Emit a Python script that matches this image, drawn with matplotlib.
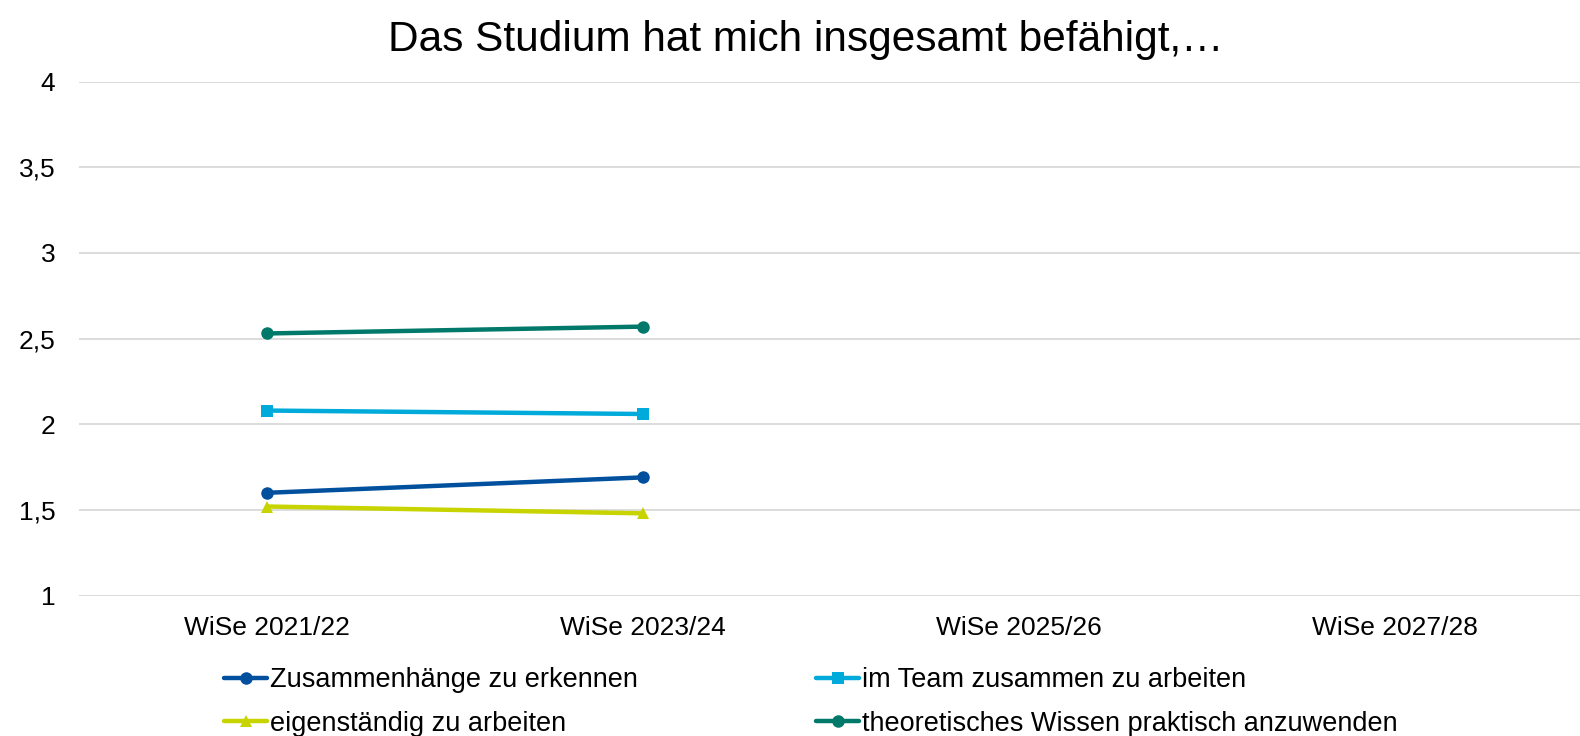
import matplotlib
matplotlib.use("Agg")
import matplotlib.pyplot as plt

categories = ["WiSe 2021/22", "WiSe 2023/24", "WiSe 2025/26", "WiSe 2027/28"]
series_names = ["Zusammenhänge zu erkennen", "im Team zusammen zu arbeiten",
                "eigenständig zu arbeiten", "theoretisches Wissen praktisch anzuwenden"]
zusammenhaenge = [1.60, 1.69]
team = [2.08, 2.06]
eigenstaendig = [1.52, 1.48]
theorie = [2.53, 2.57]
yticks = [1, 1.5, 2, 2.5, 3, 3.5, 4]
ytick_labels = ["1", "1,5", "2", "2,5", "3", "3,5", "4"]
title = "Das Studium hat mich insgesamt befähigt,…"

colors = ["#00509E", "#00AADB", "#C8D400", "#00786A"]
markers = ["o", "s", "^", "o"]

plt.rcParams['font.family'] = ['Liberation Sans', 'DejaVu Sans']

fig = plt.figure(figsize=(15.8, 7.36), dpi=100)
W, H = 1580, 736
left, right = 79, 1583
top, bottom = 81.6, 595.6
ax = fig.add_axes([left / W, 1 - bottom / H, (right - left) / W, (bottom - top) / H])

xs = list(range(len(categories)))
data = [zusammenhaenge, team, eigenstaendig, theorie]
handles = []
for name, vals, c, m in zip(series_names, data, colors, markers):
    ln, = ax.plot(xs[:len(vals)], vals, color=c, lw=3.2, marker=m, markersize=9,
                  markeredgewidth=0, label=name, solid_capstyle='round', zorder=3)
    handles.append(ln)

ax.set_xlim(-0.5, len(categories) - 0.5)
ax.set_ylim(1, 4)
ax.set_yticks(yticks)
ax.set_yticklabels(ytick_labels)
ax.set_xticks(xs)
ax.set_xticklabels(categories)
ax.grid(axis='y', color='#D9D9D9', lw=1.3, zorder=0)
for s in ax.spines.values():
    s.set_visible(False)
ax.tick_params(axis='both', length=0, labelsize=19, colors='black')
ax.tick_params(axis='y', pad=17)
ax.tick_params(axis='x', pad=15)

fig.text(806 / W, 1 - 40 / H, title, ha='center', va='center', fontsize=30.5)

order = [0, 2, 1, 3]
leg = fig.legend(handles=[handles[i] for i in order], loc='center left', ncol=2,
                 bbox_to_anchor=(224 / W, 1 - 702 / H), frameon=False,
                 fontsize=19.5, handlelength=1.6, handletextpad=0.08,
                 columnspacing=6.6, labelspacing=0.65, borderaxespad=0, borderpad=0)
fig.savefig("out.png", dpi=100)
